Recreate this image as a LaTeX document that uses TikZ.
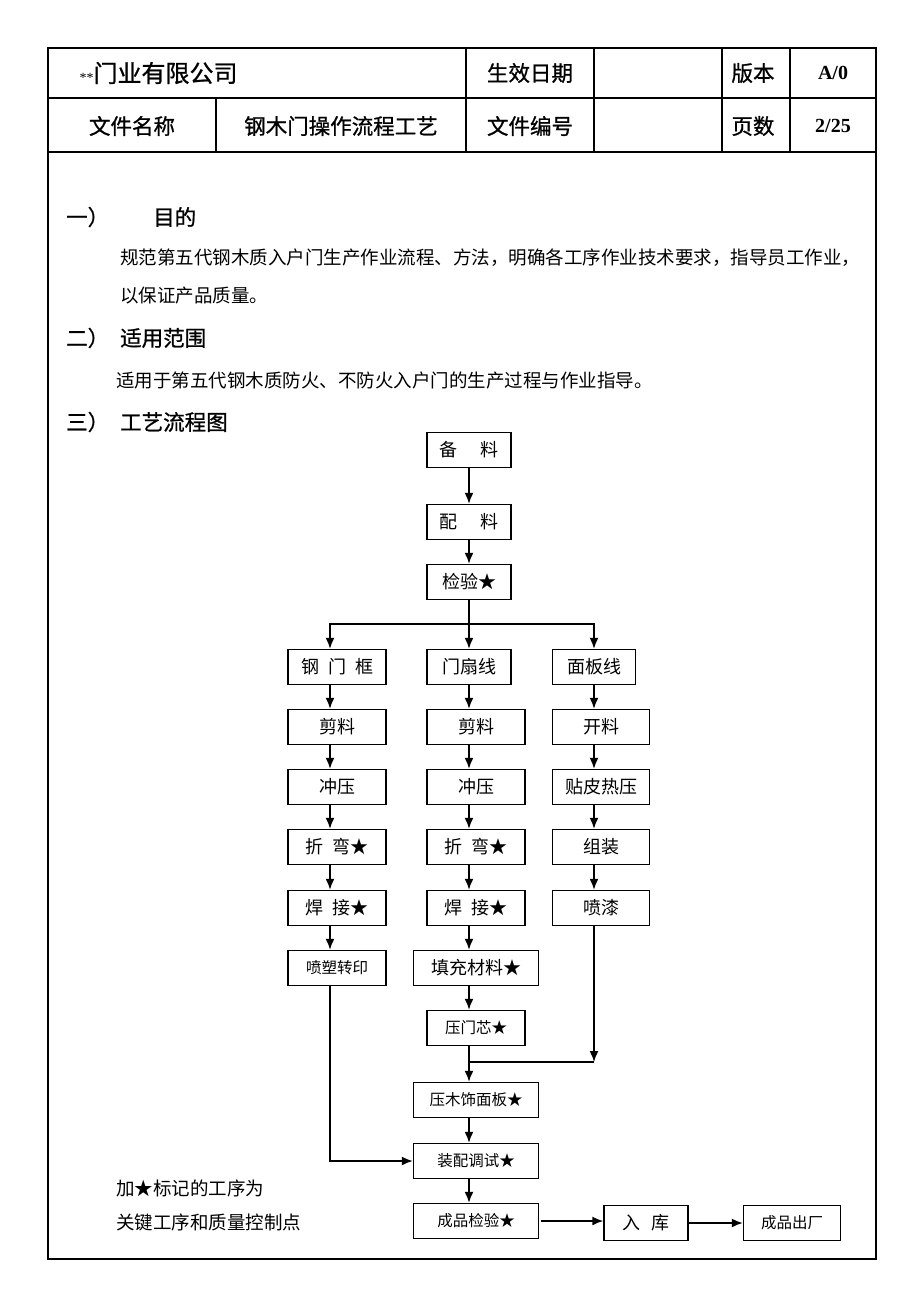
\documentclass[tikz,border=0pt]{standalone}
\usepackage{fontspec}
\setmainfont{Liberation Serif}
\newfontfamily\cjk{Noto Sans CJK SC}
\newfontfamily\cjkhead[FakeBold=0.9]{Noto Sans CJK SC}
\usetikzlibrary{arrows.meta}

\begin{document}
\begin{tikzpicture}[x=1pt, y=-1pt,
    box/.style={draw, line width=1.4pt, minimum height=35pt, inner sep=0pt,
      font=\cjk\fontsize{18}{20}\selectfont},
    smallbox/.style={box, font=\cjk\fontsize{15.5}{18}\selectfont},
    flow/.style={line width=1.6pt, -{Latex[length=11pt,width=9pt]}},
    cell/.style={font=\cjkhead\fontsize{21.5}{24}\selectfont},
    num/.style={font=\bfseries\fontsize{20}{22}\selectfont},
    head/.style={anchor=west, inner sep=0pt, font=\cjkhead\fontsize{21.5}{24}\selectfont},
    body/.style={anchor=west, inner sep=0pt, font=\cjk\fontsize{18.5}{20}\selectfont}]

	\useasboundingbox (0,0) rectangle (920,1302);

	% Frame and header table
	\draw[line width=2.6pt] (48,48) rectangle (876,1259);
	\draw[line width=1.3pt] (48,98) -- (876,98);
	\draw[line width=1.3pt] (48,152) -- (876,152);
	\draw[line width=1.3pt] (216,98) -- (216,152);
	\foreach \x in {466,594,722,790}
	  \draw[line width=1.3pt] (\x,48) -- (\x,152);

	\node[cell, anchor=west] (firm) at (76,73) {{\rmfamily\fontsize{14}{14}\selectfont **}\fontsize{24}{26}\selectfont 门业有限公司};
	\node[cell] (effdate) at (530,73) {生效日期};
	\node[cell] (ver) at (753,73) {版本};
	\node[num] (vernum) at (833,73) {A/0};
	\node[cell] (fname) at (132,126) {文件名称};
	\node[cell] (ftitle) at (341,126) {钢木门操作流程工艺};
	\node[cell] (fnum) at (530,126) {文件编号};
	\node[cell] (pages) at (753,126) {页数};
	\node[num] (pagenum) at (833,126) {2/25};

	% Sections
	\node[head] (sec1) at (66,217) {一）};
	\node[head] (sec1t) at (153,217) {目的};
	\node[body] (par1a) at (120,258) {规范第五代钢木质入户门生产作业流程、方法，明确各工序作业技术要求，指导员工作业，};
	\node[body] (par1b) at (120,296) {以保证产品质量。};
	\node[head] (sec2) at (66,338) {二）};
	\node[head] (sec2t) at (120,338) {适用范围};
	\node[body] (par2) at (116,380) {适用于第五代钢木质防火、不防火入户门的生产过程与作业指导。};
	\node[head] (sec3) at (66,422) {三）};
	\node[head] (sec3t) at (120,422) {工艺流程图};

	% Flow chart, common part
	\coordinate (c1) at (330,0);
	\coordinate (c2) at (469,0);
	\coordinate (c3) at (594,0);
	\node[box, minimum width=84pt] (bei) at (469,450) {备\hspace{1.3em}料};
	\node[box, minimum width=84pt] (pei) at (469,522) {配\hspace{1.3em}料};
	\node[box, minimum width=84pt] (check) at (469,582) {检验★};

	% Column 1
	\node[box, minimum width=98pt] (frame) at (337,667) {钢\hspace{0.5em}门\hspace{0.5em}框};
	\node[box, minimum width=98pt] (cutA) at (337,727) {剪料};
	\node[box, minimum width=98pt] (pressA) at (337,787) {冲压};
	\node[box, minimum width=98pt] (bendA) at (337,847) {折\hspace{0.5em}弯★};
	\node[box, minimum width=98pt] (weldA) at (337,908) {焊\hspace{0.5em}接★};
	\node[smallbox, minimum width=98pt] (spray) at (337,968) {喷塑转印};

	% Column 2
	\node[box, minimum width=84pt] (leaf) at (469,667) {门扇线};
	\node[box, minimum width=98pt] (cutB) at (476,727) {剪料};
	\node[box, minimum width=98pt] (pressB) at (476,787) {冲压};
	\node[box, minimum width=98pt] (bendB) at (476,847) {折\hspace{0.5em}弯★};
	\node[box, minimum width=98pt] (weldB) at (476,908) {焊\hspace{0.5em}接★};
	\node[box, minimum width=125pt] (fill) at (476,968) {填充材料★};
	\node[smallbox, minimum width=98pt] (core) at (476,1028) {压门芯★};
	\node[smallbox, minimum width=125pt] (veneer) at (476,1100) {压木饰面板★};
	\node[smallbox, minimum width=125pt] (assy) at (476,1161) {装配调试★};
	\node[smallbox, minimum width=125pt] (final) at (476,1221) {成品检验★};

	% Column 3
	\node[box, minimum width=83pt] (panel) at (594,667) {面板线};
	\node[box, minimum width=97pt] (open) at (601,727) {开料};
	\node[box, minimum width=97pt] (skin) at (601,787) {贴皮热压};
	\node[box, minimum width=97pt] (mount) at (601,847) {组装};
	\node[box, minimum width=97pt] (paint) at (601,908) {喷漆};

	% Output
	\node[box, minimum width=84pt] (store) at (646,1223) {入\hspace{0.6em}库};
	\node[smallbox, minimum width=97pt] (ship) at (792,1223) {成品出厂};

	% Notes
	\node[body] (note1) at (116,1188) {加★标记的工序为};
	\node[body] (note2) at (116,1222) {关键工序和质量控制点};

	% Connectors
	\draw[flow] (bei) -- (pei);
	\draw[flow] (pei) -- (check);
	\coordinate (fork) at (469,624);
	\draw[line width=1.6pt] (check.south) -- (fork);
	\draw[flow] (fork) -| (frame.north -| c1);
	\draw[flow] (fork) -- (leaf.north);
	\draw[flow] (fork) -| (panel.north -| c3);

	\foreach \a/\b in {frame/cutA, cutA/pressA, pressA/bendA, bendA/weldA, weldA/spray}
	  \draw[flow] (\a.south -| c1) -- (\b.north -| c1);
	\foreach \a/\b in {leaf/cutB, cutB/pressB, pressB/bendB, bendB/weldB, weldB/fill,
	    fill/core, core/veneer, veneer/assy, assy/final}
	  \draw[flow] (\a.south -| c2) -- (\b.north -| c2);
	\foreach \a/\b in {panel/open, open/skin, skin/mount, mount/paint}
	  \draw[flow] (\a.south -| c3) -- (\b.north -| c3);

	\coordinate (merge) at (469,1062);
	\draw[flow] (paint.south -| c3) -- (merge -| c3);
	\draw[line width=1.6pt] (merge -| c3) -- (merge);
	\draw[flow] (spray.south -| c1) |- (assy.west);

	\draw[flow] ([xshift=2pt]final.east) -- (final.east -| store.west);
	\draw[flow] (store) -- (ship);

\end{tikzpicture}
\end{document}
